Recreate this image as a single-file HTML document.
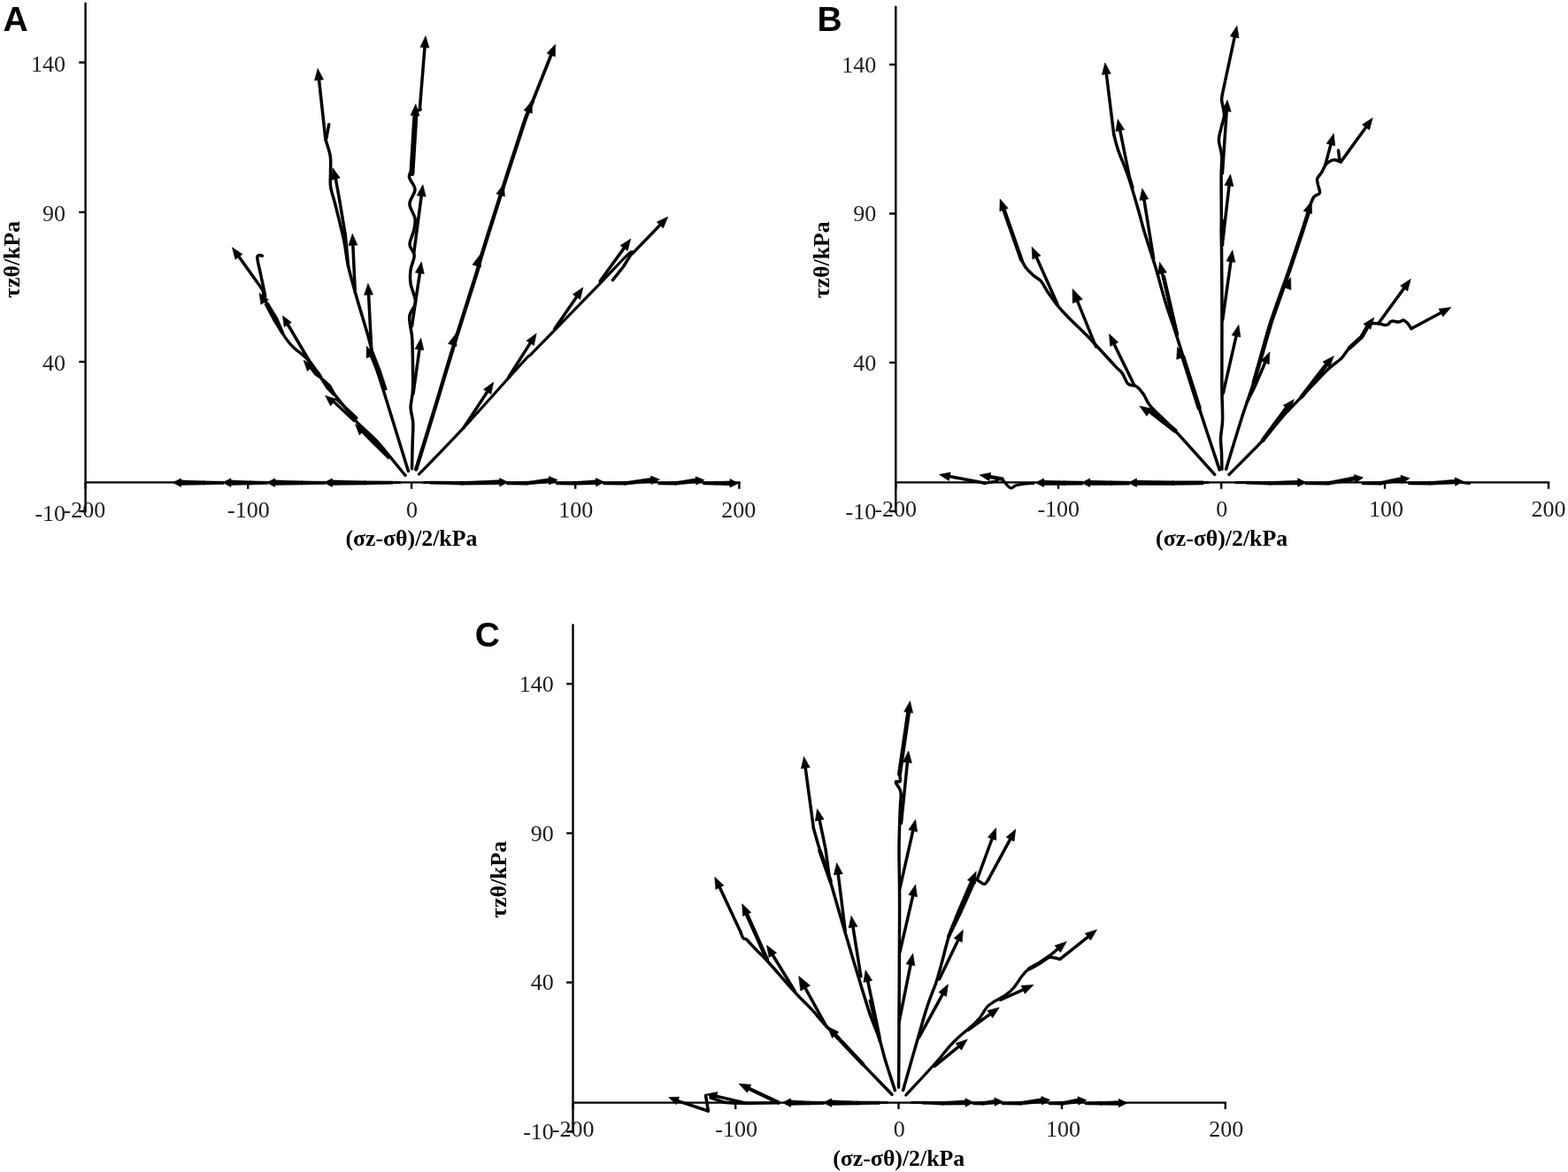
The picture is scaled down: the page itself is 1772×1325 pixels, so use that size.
<!DOCTYPE html>
<html lang="en">
<head>
<meta charset="utf-8">
<title>Stress paths</title>
<style>
html,body{margin:0;padding:0;background:#fff;}
body{width:1772px;height:1325px;overflow:hidden;}
svg{display:block;}
polyline,path{fill:none;stroke:#000;stroke-linejoin:round;stroke-linecap:round;}
.h{fill:#000;stroke:#000;stroke-width:0.6;stroke-linejoin:miter;}
.t{fill:#000;stroke:#000;stroke-width:0.4;stroke-linejoin:round;}
.ax line{stroke:#000;stroke-width:2.4;stroke-linecap:butt;}
text{fill:#000;}
.tk{font-family:"Liberation Serif","Times New Roman",serif;font-size:26px;fill:#1c1c1c;}
.ti{font-family:"Liberation Serif","Times New Roman",serif;font-size:25.8px;font-weight:bold;}
.pl{font-family:"Liberation Sans",Arial,sans-serif;font-size:39px;font-weight:bold;}
</style>
</head>
<body>
<svg width="1772" height="1325" viewBox="0 0 1772 1325">
<rect width="1772" height="1325" fill="#fff"/>
<g class="ax">
<line x1="96.6" y1="2.7" x2="96.6" y2="579.5"/>
<line x1="96.6" y1="545.4" x2="836.6" y2="545.4"/>
<line x1="89.3" y1="70.6" x2="96.6" y2="70.6"/>
<line x1="89.3" y1="239.9" x2="96.6" y2="239.9"/>
<line x1="89.3" y1="409" x2="96.6" y2="409"/>
<line x1="89.3" y1="578" x2="96.6" y2="578"/>
<line x1="96.6" y1="545.4" x2="96.6" y2="552.7"/>
<line x1="280.2" y1="545.4" x2="280.2" y2="552.7"/>
<line x1="465.1" y1="545.4" x2="465.1" y2="552.7"/>
<line x1="650.2" y1="545.4" x2="650.2" y2="552.7"/>
<line x1="835.4" y1="545.4" x2="835.4" y2="552.7"/>
</g>
<text x="74.1" y="80.9" class="tk" text-anchor="end">140</text>
<text x="74.1" y="249.5" class="tk" text-anchor="end">90</text>
<text x="74.1" y="419.1" class="tk" text-anchor="end">40</text>
<text x="74.1" y="588.8" class="tk" text-anchor="end">-10</text>
<text x="95.4" y="584.8" class="tk" text-anchor="middle">-200</text>
<text x="280.9" y="584.8" class="tk" text-anchor="middle">-100</text>
<text x="465.4" y="584.8" class="tk" text-anchor="middle">0</text>
<text x="650.7" y="584.8" class="tk" text-anchor="middle">100</text>
<text x="834.8" y="584.8" class="tk" text-anchor="middle">200</text>
<text x="464.9" y="617.4" class="ti" text-anchor="middle">(σz-σθ)/2/kPa</text>
<text x="22.3" y="293.4" class="ti" text-anchor="middle" transform="rotate(-90 22.3 293.4)">τzθ/kPa</text>
<text x="3.4" y="35.2" class="pl" text-anchor="start">A</text>
<g>
<path d="M465.5,529.9C465.6,524.9 466,508.6 466.2,500C466.4,491.4 467.1,484.9 466.8,478.3C466.5,471.7 464.2,467 464.1,460.6C464.1,454.2 466.1,450.8 466.5,440C466.9,429.2 466.4,405.9 466.2,395.8C466,385.7 466.1,385.8 465.5,379.5C464.9,373.2 462.1,364.1 462.8,357.8C463.5,351.5 469.3,347.6 469.5,341.5C469.7,335.4 465,327.2 464.1,321.1C463.2,315 463.4,310.2 464.1,304.8C464.8,299.4 468.4,293.2 468.2,288.5C468,283.8 463.1,281.2 463,276.5C462.9,271.8 466.7,265.3 467.7,260.4C468.7,255.4 469.8,251.8 469,246.8C468.2,241.8 462.9,235.9 462.9,230.5C462.9,225.1 469.1,219.3 469,214.2C468.9,209.1 463,204.4 462.5,200C462,195.6 465.1,196.3 466,188C466.9,179.7 467.4,160.5 468,150C468.6,139.5 469.5,129.2 469.8,125" stroke-width="3.5"/>
<polyline points="465.4,196 469.3,132" stroke-width="6"/>
<polygon class="h" points="469.8,117.6 474,130.9 464,130.3"/>
<polyline points="474.3,124 480.3,49.7" stroke-width="3.5"/>
<polygon class="h" points="481,40.6 484.9,54 475,53.2"/>
<polyline points="475.2,123.7 471.8,125.1" stroke-width="3.5"/>
<polyline points="467.7,286.2 476.7,217.8" stroke-width="3.5"/>
<polygon class="h" points="477.9,208.8 481.2,222.3 471.2,221"/>
<polyline points="465.5,368.7 469.5,341.5 475,305" stroke-width="3.5"/>
<polygon class="h" points="476.3,296 479.3,309.6 469.4,308.1"/>
<polyline points="467,445 474.5,391.2" stroke-width="3.5"/>
<polygon class="h" points="475.7,382.2 478.9,395.8 469,394.4"/>
<path d="M461.4,532.6C459.2,525.3 452.5,503.7 448,489C443.5,474.3 438.3,457.6 434.2,444.3C430.1,431 426.3,419.8 423.4,409.4C420.5,399 420,394.4 416.6,382.2C413.2,370 406.9,349.7 403,336.1C399.1,322.5 395.9,311.3 393.5,300.7C391.1,290.1 391.2,283.9 388.9,272.6C386.5,261.4 381.9,243.4 379.4,233.2C376.9,223 374.7,217.9 373.7,211.5C372.7,205.1 373.6,200.8 373.5,195C373.4,189.2 374.2,182.9 373.3,176.7C372.4,170.5 368.8,160.9 367.9,157.7" stroke-width="3.5"/>
<polyline points="367.9,157.7 360.1,86.5" stroke-width="3.5"/>
<polygon class="h" points="359.1,77.5 365.5,89.9 355.5,91"/>
<polyline points="368.7,157 371.7,140.7" stroke-width="3.5"/>
<polyline points="393.6,301 390.3,265.8 383.5,225.1 379.5,203 378.3,198.6" stroke-width="3.5"/>
<polygon class="h" points="376,189.8 384.2,201.1 374.5,203.6"/>
<polyline points="401.3,330 398.7,273.4" stroke-width="3.5"/>
<polygon class="h" points="398.3,264.3 403.9,277.1 393.9,277.5"/>
<polyline points="419.8,395.8 416.4,329.5" stroke-width="3.5"/>
<polygon class="h" points="415.9,320.4 421.6,333.1 411.6,333.6"/>
<polygon class="t" points="437.6,440.4 430.6,419 425.4,421 434.4,441.6"/>
<polygon class="t" points="430.6,419 422.3,397.4 416.7,399.6 425.4,421"/>
<polygon class="h" points="414.3,391.3 423.4,401.2 414.1,404.8"/>
<path d="M458,537.4C452.8,531.2 434.9,508.9 427,500C419.1,491.1 414.9,488.3 410.6,484.2C406.4,480.1 406,480.4 401.5,475.1C397,469.8 389.4,459.9 383.4,452.5C377.4,445.1 370.1,437 365.3,430.7C360.5,424.4 357.3,418.4 354.5,414.5C351.7,410.6 350.9,409.5 348.5,407C346.1,404.5 342.6,401.7 340,399.5C337.4,397.3 335.3,396.2 333,394C330.7,391.8 328.2,389.3 326,386.5C323.8,383.7 322.2,381.8 319.5,377C316.8,372.2 313.3,364.2 310,358C306.7,351.8 302,345 299.8,340C297.6,335 297.5,330 297,328" stroke-width="3.4"/>
<polyline points="297,328 267.7,287.1" stroke-width="3.5"/>
<polygon class="h" points="262.4,279.7 274,287.4 265.9,293.2"/>
<path d="M299.8,335C299,331.2 296.5,319.1 295,312C293.5,304.9 291.3,296.5 290.9,292.6C290.4,288.7 291.4,289.3 292.3,288.7C293.2,288.1 295.7,289.1 296.4,289.2" stroke-width="3.5"/>
<polygon class="t" points="321.1,376.2 313.8,359.1 308.2,361.9 317.9,377.8"/>
<polygon class="t" points="313.7,359 303.2,341.8 298.8,344.2 308.3,362"/>
<polygon class="h" points="293,331.3 303.5,339 294.9,344.2"/>
<polyline points="349.5,408 323.6,364" stroke-width="3.5"/>
<polygon class="h" points="319.5,357.1 329.4,364.6 321.2,369.4"/>
<polygon class="t" points="364.3,425.7 359.8,419.2 355.2,423.8 361.7,428.3"/>
<polygon class="t" points="359.9,419.4 353.4,412.9 349.6,416.1 355.1,423.6"/>
<polygon class="h" points="343.1,407.2 354.8,412.9 347.3,419.5"/>
<polygon class="t" points="379.4,445.4 373.7,435 368.3,439 376.6,447.6"/>
<polygon class="t" points="373.5,434.9 365.4,427.4 362.6,429.6 368.5,439.1"/>
<polyline points="400,475.5 376,453" stroke-width="3.2"/>
<polyline points="403,472.5 380,451" stroke-width="3.2"/>
<polygon class="h" points="367.6,447.3 380,451.2 373.5,458.9"/>
<polygon class="t" points="441.3,516.8 427,500.2 423,503.8 438.7,519.2"/>
<polygon class="t" points="426.9,500.1 411.1,483.5 406.9,487.5 423.1,503.9"/>
<polygon class="h" points="401.5,479.6 413.4,484.9 406.1,491.8"/>
<path d="M470.2,530.6C473.9,518.5 485.5,481.3 492.6,457.9C499.7,434.5 505.4,414.6 513,390C520.6,365.4 533.2,326.6 538.3,310C543.4,293.4 540.1,302.2 543.7,290.3C547.3,278.4 555.7,252.3 560,238.7C564.3,225.1 564.9,223.2 569.5,208.8C574.1,194.4 583.7,165 587.9,152.2C592.1,139.4 592.4,138 594.7,131.9C597,125.8 600.4,118.3 601.5,115.6" stroke-width="4.4"/>
<polyline points="601.5,115.6 624.2,58.6" stroke-width="3.8"/>
<polygon class="h" points="627.6,50.1 627.4,64 618.1,60.3"/>
<polygon class="h" points="515,377.5 516.1,391.4 506.5,388.5"/>
<polygon class="h" points="542.4,288.2 543.5,302.1 533.9,299.2"/>
<polygon class="h" points="569.5,208.1 570.4,222 560.9,219"/>
<polygon class="h" points="601.2,114.2 601.4,128.1 592,124.7"/>
<path d="M473.6,536C482,527.3 504.5,504.6 523.9,483.7C543.3,462.8 577.2,424.3 590,410.4C602.8,396.4 594.8,405.9 600.7,400C606.6,394.1 612.5,387.8 625.2,374.8C637.9,361.8 662.8,336.4 676.8,321.9C690.8,307.4 703.1,293.8 709.4,287.9C715.7,282 713.9,286.8 714.8,286.6" stroke-width="3.2"/>
<polyline points="714.8,286.6 748.6,251.6" stroke-width="3.5"/>
<polygon class="h" points="754.9,245.1 749.5,257.9 742.3,251"/>
<polyline points="714.6,285.2 704.5,301.5 692.4,316.6" stroke-width="3.5"/>
<polyline points="523.9,483.7 552.8,439.7" stroke-width="3.5"/>
<polygon class="h" points="557.8,432.1 554.8,445.7 546.5,440.2"/>
<polyline points="575,426 601.3,384.6" stroke-width="3.5"/>
<polygon class="h" points="606.2,376.9 603.4,390.6 595,385.2"/>
<polyline points="626.6,372.1 653.8,332.4" stroke-width="3.5"/>
<polygon class="h" points="658.9,324.9 655.7,338.5 647.4,332.8"/>
<polyline points="678.2,317.8 707.5,277.4" stroke-width="3.5"/>
<polygon class="h" points="712.8,270 709.2,283.5 701.1,277.6"/>
<polyline points="440,545.5 452,545.4" stroke-width="3"/>
<polygon class="t" points="444,543.9 412.3,543.8 412.3,548 444,547.3"/>
<polygon class="t" points="412.3,543.8 373.6,542.8 373.6,548.4 412.3,548"/>
<circle class="t" cx="412.3" cy="545.9" r="2.1"/>
<polygon class="h" points="366,545.6 375.5,540.9 375.5,550.4"/>
<polygon class="t" points="367.5,544.2 341.1,543.8 341.1,548 367.5,547.6"/>
<polygon class="t" points="341.1,543.8 308.9,542.8 308.9,548.4 341.1,548"/>
<circle class="t" cx="341.1" cy="545.9" r="2.1"/>
<polygon class="h" points="301.3,545.6 310.8,540.9 310.8,550.4"/>
<polygon class="t" points="302.8,544.2 283.1,543.8 283.1,548 302.8,547.6"/>
<polygon class="t" points="283.2,543.8 259.1,542.8 259.1,548.4 283.1,548"/>
<circle class="t" cx="283.1" cy="545.9" r="2.1"/>
<polygon class="h" points="251.5,545.6 261,540.9 261,550.4"/>
<polygon class="t" points="253,544.2 230.4,543.8 230.4,548 253,547.6"/>
<polygon class="t" points="230.4,543.8 202.8,542.8 202.8,548.4 230.4,548"/>
<circle class="t" cx="230.4" cy="545.9" r="2.1"/>
<polygon class="h" points="195.2,545.6 204.7,540.9 204.7,550.4"/>
<polyline points="478,545.4 490,545.4" stroke-width="3"/>
<polygon class="t" points="486,547.2 522.2,548.2 522.3,544.4 486,544"/>
<polygon class="t" points="522.3,548.2 566.6,547.8 566.4,542.6 522.2,544.4"/>
<circle class="t" cx="522.2" cy="546.3" r="2"/>
<polygon class="h" points="574.1,545.1 564.7,550 564.5,540.5"/>
<polygon class="t" points="572.6,547.9 595,548.3 595,544.4 572.6,544.7"/>
<polygon class="t" points="595.2,548.2 622.7,545.5 622.1,540.4 594.8,544.4"/>
<circle class="t" cx="595" cy="546.3" r="2"/>
<polygon class="h" points="630,542.6 620.9,548 620.2,538.6"/>
<polygon class="t" points="628.5,547.9 649.6,548.3 649.6,544.4 628.5,544.7"/>
<polygon class="t" points="649.7,548.2 675.5,547.7 675.3,542.5 649.5,544.4"/>
<circle class="t" cx="649.6" cy="546.3" r="2"/>
<polygon class="h" points="683,545 673.6,549.9 673.4,540.4"/>
<polygon class="t" points="681.5,547.9 706.8,548.3 706.8,544.4 681.5,544.7"/>
<polygon class="t" points="707.1,548.2 738.1,545 737.5,539.9 706.6,544.4"/>
<circle class="t" cx="706.8" cy="546.3" r="2"/>
<polygon class="h" points="745.4,542 736.4,547.6 735.5,538.1"/>
<polygon class="t" points="743.9,547.9 763.9,548.3 763.9,544.4 743.9,544.7"/>
<polygon class="t" points="764.1,548.2 788.6,545.7 788,540.6 763.6,544.4"/>
<circle class="t" cx="763.9" cy="546.3" r="2"/>
<polygon class="h" points="795.9,542.8 786.8,548.2 786.1,538.7"/>
<polygon class="t" points="794.4,547.9 809,548.3 809,544.4 794.4,544.7"/>
<polygon class="t" points="809,548.2 826.9,548.9 826.9,543.7 809,544.4"/>
<circle class="t" cx="809" cy="546.3" r="2"/>
<polygon class="h" points="834.5,546.4 824.9,551 825.1,541.5"/>
</g>
<g class="ax">
<line x1="1012.3" y1="6.8" x2="1012.3" y2="579.5"/>
<line x1="1012.3" y1="545.4" x2="1751.2" y2="545.4"/>
<line x1="1005" y1="73" x2="1012.3" y2="73"/>
<line x1="1005" y1="241.5" x2="1012.3" y2="241.5"/>
<line x1="1005" y1="409.9" x2="1012.3" y2="409.9"/>
<line x1="1005" y1="578" x2="1012.3" y2="578"/>
<line x1="1012.3" y1="545.4" x2="1012.3" y2="552.7"/>
<line x1="1196" y1="545.4" x2="1196" y2="552.7"/>
<line x1="1380.2" y1="545.4" x2="1380.2" y2="552.7"/>
<line x1="1565" y1="545.4" x2="1565" y2="552.7"/>
<line x1="1750" y1="545.4" x2="1750" y2="552.7"/>
</g>
<text x="990.2" y="81.5" class="tk" text-anchor="end">140</text>
<text x="990.2" y="250.2" class="tk" text-anchor="end">90</text>
<text x="990.2" y="418.7" class="tk" text-anchor="end">40</text>
<text x="990.2" y="587" class="tk" text-anchor="end">-10</text>
<text x="1012.3" y="584" class="tk" text-anchor="middle">-200</text>
<text x="1196.3" y="584" class="tk" text-anchor="middle">-100</text>
<text x="1380.8" y="584" class="tk" text-anchor="middle">0</text>
<text x="1566.5" y="584" class="tk" text-anchor="middle">100</text>
<text x="1750" y="584" class="tk" text-anchor="middle">200</text>
<text x="1380.6" y="616.7" class="ti" text-anchor="middle">(σz-σθ)/2/kPa</text>
<text x="936.9" y="293.8" class="ti" text-anchor="middle" transform="rotate(-90 936.9 293.8)">τzθ/kPa</text>
<text x="923.6" y="35.3" class="pl" text-anchor="start">B</text>
<g>
<path d="M1380.9,530.4C1380.8,527.3 1380.7,517.9 1380.5,512C1380.3,506.1 1379.3,501.3 1379.5,495.1C1379.7,488.9 1381.4,483.8 1381.6,474.7C1381.8,465.6 1381,453.1 1380.9,440.7C1380.8,428.2 1380.9,418.4 1380.9,400C1380.9,381.6 1381,350 1380.9,330C1380.8,310 1380.6,301.4 1380.5,280C1380.4,258.6 1380.1,219.2 1380.1,201.9C1380.1,184.6 1381.2,183.3 1380.7,176.1C1380.2,168.8 1377.4,163.9 1377.4,158.4C1377.4,152.9 1379.5,147.8 1380.5,143C1381.5,138.2 1383.5,134.8 1383.5,129.9C1383.5,125 1381,117.6 1380.7,113.6C1380.4,109.6 1381.4,107.3 1381.5,106" stroke-width="3.5"/>
<polyline points="1381.5,106 1396,38.1" stroke-width="3.5"/>
<polygon class="h" points="1397.9,29.2 1400.1,43 1390.3,40.9"/>
<polyline points="1381.4,196 1386.5,122" stroke-width="3.5"/>
<polygon class="h" points="1387.1,112.9 1391.2,126.2 1381.2,125.5"/>
<polyline points="1382.1,269.8 1389.5,206.1" stroke-width="3.5"/>
<polygon class="h" points="1390.5,197.1 1394,210.6 1384,209.4"/>
<polygon class="t" points="1379.6,248 1378.8,262 1383.8,262 1383.2,248"/>
<polygon class="t" points="1378.8,262 1379.4,278 1383,278 1383.8,262"/>
<polyline points="1381.6,361.9 1391.5,291.8" stroke-width="3.5"/>
<polygon class="h" points="1392.8,282.8 1395.9,296.4 1386,295"/>
<polyline points="1382.2,444.8 1397.9,376.2" stroke-width="3.5"/>
<polygon class="h" points="1399.9,367.3 1401.9,381.1 1392.1,378.9"/>
<path d="M1378.2,531.1C1374.3,519.4 1362.1,483 1355.1,461.1C1348.1,439.2 1340.6,414.5 1336.1,400C1331.6,385.5 1331.1,383.9 1327.9,374.1C1324.7,364.4 1320.4,352.6 1317,341.5C1313.6,330.4 1309.7,315.2 1307.5,307.5C1305.3,299.8 1306.2,303 1303.7,295.1C1301.2,287.2 1295.3,269.1 1292.6,260C1289.9,250.9 1290.3,250.7 1287.4,240.7C1284.5,230.7 1279.2,211.9 1275.2,200C1271.2,188.1 1266.2,177.5 1263.5,169.4C1260.8,161.3 1259.5,154.6 1258.7,151.7" stroke-width="3.5"/>
<polyline points="1258.7,151.7 1249.9,79.9" stroke-width="3.5"/>
<polygon class="h" points="1248.8,70.9 1255.3,83.2 1245.4,84.4"/>
<polyline points="1280,212 1276.4,200 1265,143.7" stroke-width="3.5"/>
<polygon class="h" points="1263.2,134.8 1270.7,146.5 1260.9,148.5"/>
<polyline points="1303.7,292.4 1292.3,221.9" stroke-width="3.5"/>
<polygon class="h" points="1290.8,212.9 1297.8,224.9 1287.9,226.5"/>
<polyline points="1330,378 1315,313" stroke-width="4.4"/>
<polyline points="1329,374 1312.6,305.3" stroke-width="3.5"/>
<polygon class="h" points="1310.5,296.4 1318.4,307.9 1308.7,310.2"/>
<polyline points="1355.1,461.1 1337,404" stroke-width="5.2"/>
<polygon class="h" points="1330.6,392.4 1339.2,403.3 1329.7,406.3"/>
<path d="M1372.7,536.5C1365.2,528.2 1339.9,499.7 1327.9,486.9C1315.9,474.1 1306.6,466.6 1300.7,459.8C1294.8,453 1295.3,450 1292.6,446.2C1289.9,442.4 1287.5,439 1284.5,437C1281.5,435 1277.6,436.6 1274.9,434C1272.2,431.4 1270.6,425.1 1268.1,421.7C1265.6,418.3 1266.5,420.6 1260,413.6C1253.5,406.7 1237.5,388.9 1229,380C1220.5,371.1 1214.4,366.1 1208.7,360.3C1203,354.5 1199.2,350.3 1195.1,345.3C1191,340.3 1187.3,334.9 1184.2,330.4C1181.1,325.9 1179.4,321.4 1176.7,318.2C1174,315 1170.7,313.9 1167.9,311.4C1165.1,308.9 1162.1,306.1 1159.8,303.2C1157.5,300.2 1155.2,295.3 1154.3,293.7" stroke-width="3.5"/>
<polyline points="1154.3,293.7 1133.2,233.5" stroke-width="4.6"/>
<polygon class="h" points="1130.2,224.9 1139.2,235.5 1129.8,238.8"/>
<polyline points="1195.1,344 1169.8,287.5" stroke-width="3.5"/>
<polygon class="h" points="1166.1,279.2 1176,289 1166.8,293.1"/>
<polyline points="1238.5,392 1216,336.3" stroke-width="3.4"/>
<polygon class="h" points="1212.1,326.6 1223.3,338.3 1212.2,342.8"/>
<polyline points="1281.7,435.3 1257.5,385.7" stroke-width="3.5"/>
<polygon class="h" points="1253.5,377.5 1263.7,387 1254.7,391.4"/>
<polyline points="1327.9,486.9 1301,466" stroke-width="5.2"/>
<polygon class="h" points="1287.8,459.1 1301.4,462 1296,470.4"/>
<path d="M1385.6,530.4C1388.4,521.1 1397.5,490.8 1402.6,474.7C1407.7,458.6 1412.8,444.9 1416.2,434C1419.6,423.1 1419.6,421.4 1423,409.4C1426.4,397.4 1430.9,379.3 1436.6,361.9C1442.2,344.5 1451,321.8 1456.9,304.8C1462.8,287.8 1467.8,272.4 1471.9,260C1476,247.6 1479.1,236.7 1481.3,230.4C1483.5,224.1 1483.6,224.2 1485.3,222.2C1487,220.2 1490.7,220.4 1491.4,218.2C1492.1,215.9 1489.9,211.4 1489.4,208.7C1489,206 1488,204.2 1488.7,201.9C1489.4,199.6 1492,197.6 1493.5,195.1C1495,192.6 1496.9,188.3 1497.6,186.9" stroke-width="3.5"/>
<polyline points="1417,432 1436.6,364 1456.9,306.5 1471.9,261.5 1480,236" stroke-width="4.6"/>
<polygon class="h" points="1482,227.7 1482.6,241.6 1473.1,238.4"/>
<polyline points="1497.6,186.9 1504.9,159.7" stroke-width="3.5"/>
<polygon class="h" points="1507.3,150.9 1508.7,164.8 1499.1,162.2"/>
<path d="M1497.6,186.5C1498.5,185.8 1501.2,183.1 1503,182.2C1504.8,181.2 1506.4,180.7 1508.4,180.8C1510.4,181 1514.1,182.7 1515.2,183.1" stroke-width="3.5"/>
<polyline points="1512.5,170 1513.9,181.5" stroke-width="3.5"/>
<polyline points="1515.2,183.1 1545.9,140.7" stroke-width="3.5"/>
<polygon class="h" points="1551.2,133.3 1547.6,146.8 1539.5,140.9"/>
<polygon class="h" points="1458.6,313.7 1458.9,327.6 1449.5,324.3"/>
<polyline points="1409.4,454.3 1417.6,438 1431.3,406.3" stroke-width="3.5"/>
<polygon class="h" points="1434.9,397.9 1434.3,411.8 1425.2,407.9"/>
<path d="M1389,536.5C1395.3,530 1416.9,508.9 1427.1,497.8C1437.3,486.7 1443.1,478.1 1450.4,470C1457.7,461.9 1462.3,457.6 1470.7,448.9C1479.1,440.2 1493.1,424.9 1500.6,417.7C1508.1,410.4 1511.5,409.5 1515.6,405.4C1519.7,401.3 1521.2,397.3 1525.1,393.2C1528.9,389.1 1535.5,384.6 1538.7,381C1541.9,377.4 1542.5,374 1544.1,371.5C1545.6,369 1547.3,366.9 1548,366" stroke-width="3.4"/>
<polyline points="1427.1,497.8 1455,460" stroke-width="4.8"/>
<polygon class="h" points="1462.4,451.6 1457.8,464.7 1450.2,458.3"/>
<polyline points="1470.7,448.9 1500,411" stroke-width="4.8"/>
<polygon class="h" points="1507.4,402.5 1502.5,415.6 1495,408.9"/>
<polyline points="1525.1,393.2 1538.7,381 1545,370" stroke-width="4.8"/>
<polygon class="h" points="1552.9,359 1548.9,372.3 1541,366.2"/>
<path d="M1548.2,365.4C1550.7,365.5 1552.6,365.3 1557.7,365.8C1562.8,366.3 1563.2,368.1 1567.2,367.4C1571.2,366.7 1569,364.2 1572.6,363.3C1576.2,362.4 1576.8,364.2 1580.8,364C1584.8,363.8 1583.8,360.7 1587.6,362.7C1591.4,364.7 1593,369.2 1595,371.5" stroke-width="3.5"/>
<polyline points="1595,371.5 1631.8,351.8" stroke-width="3.5"/>
<polygon class="h" points="1639.8,347.5 1630.7,358 1626,349.2"/>
<polyline points="1557.7,365.8 1588.9,322.9" stroke-width="3.5"/>
<polygon class="h" points="1594.3,315.5 1590.7,329 1582.6,323.1"/>
<polyline points="1356,545.7 1366,545.6" stroke-width="3"/>
<polygon class="t" points="1360,543.7 1325.1,543.8 1325.2,548.4 1360,547.9"/>
<polygon class="t" points="1325.2,543.8 1282.6,543 1282.6,548.6 1325.2,548.4"/>
<circle class="t" cx="1325.2" cy="546.1" r="2.3"/>
<polygon class="h" points="1275,545.8 1284.5,541 1284.5,550.5"/>
<polygon class="t" points="1276.5,544 1255.5,543.8 1255.5,548.4 1276.5,548.2"/>
<polygon class="t" points="1255.5,543.8 1229.8,543 1229.8,548.6 1255.5,548.4"/>
<circle class="t" cx="1255.5" cy="546.1" r="2.3"/>
<polygon class="h" points="1222.2,545.8 1231.7,541 1231.7,550.5"/>
<polygon class="t" points="1223.7,544 1203,543.8 1203,548.4 1223.7,548.2"/>
<polygon class="t" points="1203,543.8 1177.7,543 1177.7,548.6 1203,548.4"/>
<circle class="t" cx="1203" cy="546.1" r="2.3"/>
<polygon class="h" points="1170.1,545.8 1179.6,541 1179.6,550.5"/>
<polyline points="1112.2,546 1069.8,538" stroke-width="3.5"/>
<polygon class="h" points="1061.5,536.5 1074.2,534 1072.4,543.4"/>
<polyline points="1132.7,541.6 1115.3,538.4" stroke-width="4.2"/>
<polygon class="h" points="1107,536.9 1119.7,534.4 1117.9,543.7"/>
<path d="M1112,546.5C1114.2,546.1 1121.8,544.9 1125,544C1128.2,543.1 1128.9,540.1 1131.2,540.9C1133.5,541.7 1136.6,547.2 1138.6,549C1140.6,550.8 1141.5,551.9 1143,551.9C1144.5,551.9 1145.5,549.7 1147.4,549C1149.4,548.3 1151.3,548 1154.7,547.5C1158.1,547 1165.8,546.5 1168,546.3" stroke-width="3.2"/>
<polyline points="1396,545.6 1412,545.6" stroke-width="3"/>
<polygon class="t" points="1408,547.3 1435.2,548.2 1435.3,544.4 1408,544.1"/>
<polygon class="t" points="1435.3,548.2 1468.7,548 1468.5,543 1435.2,544.4"/>
<circle class="t" cx="1435.3" cy="546.3" r="1.9"/>
<polygon class="h" points="1476.2,545.5 1466.7,550.3 1466.7,540.8"/>
<polygon class="t" points="1474.7,547.9 1500.9,548.2 1500.9,544.4 1474.7,544.7"/>
<polygon class="t" points="1501.2,548.2 1533.3,543.1 1532.5,538.1 1500.6,544.4"/>
<circle class="t" cx="1500.9" cy="546.3" r="1.9"/>
<polygon class="h" points="1540.5,539.9 1531.8,546 1530.4,536.6"/>
<polygon class="t" points="1539,547.9 1559.9,548.2 1559.9,544.4 1539,544.7"/>
<polygon class="t" points="1560.2,548.2 1585.9,543.8 1584.9,538.9 1559.5,544.4"/>
<circle class="t" cx="1559.9" cy="546.3" r="1.9"/>
<polygon class="h" points="1593,540.8 1584.1,546.7 1583,537.2"/>
<polygon class="t" points="1591.5,547.9 1616.2,548.2 1616.2,544.4 1591.5,544.7"/>
<polygon class="t" points="1616.3,548.2 1646.5,546.9 1646.1,541.9 1616,544.4"/>
<circle class="t" cx="1616.2" cy="546.3" r="1.9"/>
<polygon class="h" points="1653.9,544.2 1644.6,549.3 1644.2,539.8"/>
<polyline points="1652,545.6 1660.5,546.6" stroke-width="3"/>
</g>
<g class="ax">
<line x1="647.5" y1="705.5" x2="647.5" y2="1280.8"/>
<line x1="647.5" y1="1246.6" x2="1386" y2="1246.6"/>
<line x1="640.2" y1="773.1" x2="647.5" y2="773.1"/>
<line x1="640.2" y1="942" x2="647.5" y2="942"/>
<line x1="640.2" y1="1110.7" x2="647.5" y2="1110.7"/>
<line x1="640.2" y1="1279.4" x2="647.5" y2="1279.4"/>
<line x1="647.5" y1="1246.6" x2="647.5" y2="1253.9"/>
<line x1="831.2" y1="1246.6" x2="831.2" y2="1253.9"/>
<line x1="1015.5" y1="1246.6" x2="1015.5" y2="1253.9"/>
<line x1="1200" y1="1246.6" x2="1200" y2="1253.9"/>
<line x1="1384.8" y1="1246.6" x2="1384.8" y2="1253.9"/>
</g>
<text x="625.8" y="781.8" class="tk" text-anchor="end">140</text>
<text x="625.8" y="950.7" class="tk" text-anchor="end">90</text>
<text x="625.8" y="1119.4" class="tk" text-anchor="end">40</text>
<text x="625.8" y="1288.3" class="tk" text-anchor="end">-10</text>
<text x="647.8" y="1284.7" class="tk" text-anchor="middle">-200</text>
<text x="832.2" y="1284.7" class="tk" text-anchor="middle">-100</text>
<text x="1016.2" y="1284.7" class="tk" text-anchor="middle">0</text>
<text x="1201.5" y="1284.7" class="tk" text-anchor="middle">100</text>
<text x="1385.8" y="1284.7" class="tk" text-anchor="middle">200</text>
<text x="1015.7" y="1317.9" class="ti" text-anchor="middle">(σz-σθ)/2/kPa</text>
<text x="572.5" y="994.4" class="ti" text-anchor="middle" transform="rotate(-90 572.5 994.4)">τzθ/kPa</text>
<text x="536.7" y="730.9" class="pl" text-anchor="start">C</text>
<g>
<path d="M1015.5,1229.2C1015.6,1223.4 1015.7,1214.8 1015.8,1200C1015.9,1185.2 1015.9,1175 1016,1155C1016.1,1135 1016.2,1125 1016.3,1100C1016.4,1075 1016.6,1050 1016.6,1030C1016.6,1010 1016.6,1014 1016.5,1000C1016.4,986 1015.9,976.8 1016,960C1016.1,943.2 1016.8,928.7 1017.2,915.8C1017.6,902.9 1018.9,901.7 1017.9,895.5C1016.9,889.3 1012.5,887.1 1012.4,884.6C1012.3,882.1 1016.4,885.1 1017.2,883.2C1018,881.3 1016.6,876.7 1016.5,875.1" stroke-width="3.5"/>
<polyline points="1016.5,875.1 1027.2,801.5" stroke-width="5"/>
<polygon class="h" points="1028.5,792.5 1031.6,806.1 1021.7,804.6"/>
<polyline points="1018.5,930.8 1025.8,858.1" stroke-width="3.5"/>
<polygon class="h" points="1026.7,849 1030.4,862.4 1020.4,861.4"/>
<polyline points="1017,1004.2 1032.6,935.4" stroke-width="3.5"/>
<polygon class="h" points="1034.6,926.5 1036.6,940.3 1026.9,938.1"/>
<polyline points="1017,1076.2 1032.5,1009" stroke-width="3.5"/>
<polygon class="h" points="1034.6,1000.1 1036.5,1013.9 1026.8,1011.6"/>
<polyline points="1016.1,1155.2 1029.8,1086.9" stroke-width="3.5"/>
<polygon class="h" points="1031.6,1078 1033.9,1091.7 1024.1,1089.8"/>
<path d="M1011.4,1232.6C1009.6,1226.9 1003.5,1208.4 1000.5,1198.7C997.5,1189 996.9,1183.7 993.7,1174.2C990.5,1164.7 986.5,1156.9 981.5,1141.6C976.5,1126.3 968.7,1099.8 963.4,1082.2C958.1,1064.6 954.1,1050.8 949.8,1036.1C945.5,1021.4 941.5,1006.7 937.6,994C933.7,981.3 929.2,969.6 926.2,960C923.2,950.4 920.5,940.2 919.4,936.2" stroke-width="3.5"/>
<polyline points="919.4,936.2 909.7,864.4" stroke-width="3.5"/>
<polygon class="h" points="908.5,855.4 915.2,867.6 905.3,869"/>
<polyline points="937.6,994 933,960 925.4,923.4" stroke-width="3.5"/>
<polygon class="h" points="923.5,914.5 931.1,926.2 921.3,928.2"/>
<polyline points="926.5,962 938.5,996" stroke-width="4.6"/>
<polyline points="955.2,1052.4 946.8,984.6" stroke-width="3.5"/>
<polygon class="h" points="945.7,975.6 952.3,987.9 942.3,989.1"/>
<polyline points="972.9,1104 963.4,1044.4" stroke-width="3.5"/>
<polygon class="h" points="962,1035.4 969,1047.5 959.1,1049"/>
<polyline points="993.7,1171.5 980,1105.7" stroke-width="3.5"/>
<polygon class="h" points="978.1,1096.8 985.7,1108.5 975.9,1110.5"/>
<polygon class="t" points="996.2,1176.6 986.4,1129.5 981.6,1130.5 992.8,1177.4"/>
<path d="M1008,1237.4C992.3,1221.1 961.8,1189.8 940.7,1167.4C919.6,1145 927.6,1152.3 917.7,1141.6C907.8,1130.9 909.7,1134.2 898.2,1121.6C886.7,1109 878.1,1098.5 868.3,1087.7C858.5,1076.9 861.3,1080.8 856.1,1075.4C850.9,1070 849,1067.7 846,1064.5C843,1061.3 844.6,1062.8 843.2,1061.9C841.8,1061 841.2,1062.4 839.8,1060.5C838.4,1058.6 837.7,1055.3 837,1053.7" stroke-width="3.5"/>
<polyline points="837,1053.7 811.7,999.7" stroke-width="3.5"/>
<polygon class="h" points="807.8,991.5 817.9,1001.1 808.8,1005.4"/>
<polyline points="866.9,1085 842.4,1030.1" stroke-width="4.6"/>
<polygon class="h" points="838.7,1021.8 848.6,1031.6 839.4,1035.7"/>
<polyline points="898.2,1120.3 871.3,1076.5" stroke-width="3.5"/>
<polygon class="h" points="866.5,1068.7 877.6,1077.2 869,1082.4"/>
<polyline points="934,1160.6 907.9,1113.1" stroke-width="3.5"/>
<polygon class="h" points="902.7,1103.6 915.6,1114.2 904.7,1120.2"/>
<polyline points="975,1203 943,1169" stroke-width="4.6"/>
<polygon class="h" points="935.3,1160.6 947.8,1166.8 940.4,1173.6"/>
<path d="M1020.6,1232.6C1023.9,1220.9 1031.7,1193.2 1037.2,1174.2C1042.7,1155.2 1043.9,1150 1048,1137.5C1052.1,1125 1055,1119.2 1057.6,1111.7C1060.2,1104.2 1059.5,1105.5 1061.1,1100C1062.7,1094.5 1063,1093.1 1065.4,1084.3C1067.8,1075.5 1069.5,1066.4 1073.3,1055.8C1077.1,1045.2 1079.8,1041.2 1084.2,1031.4C1088.6,1021.6 1091.8,1014 1095.1,1006.9C1098.4,999.8 1099.4,998.3 1100.5,996.1" stroke-width="3.5"/>
<polygon class="t" points="1073.1,1060.7 1086.9,1032.6 1081.5,1030.2 1069.9,1059.3"/>
<polygon class="t" points="1086.9,1032.6 1102.4,997.8 1096.6,995.2 1081.5,1030.2"/>
<polygon class="h" points="1103.2,985.2 1102.5,999.1 1093.4,995.1"/>
<polyline points="1104.6,993.3 1122.5,944.5" stroke-width="3.5"/>
<polygon class="h" points="1125.6,936 1125.8,949.9 1116.4,946.5"/>
<path d="M1103,994C1103.8,994.5 1105.9,996.1 1107.5,997C1109.1,997.9 1111.2,999.9 1112.7,999.5C1114.2,999.1 1116.1,995.5 1116.8,994.7" stroke-width="3.5"/>
<polyline points="1116.8,994.7 1143.5,945.4" stroke-width="3.5"/>
<polygon class="h" points="1147.8,937.4 1146,951.2 1137.2,946.5"/>
<polyline points="1061.5,1107 1084.4,1059.5" stroke-width="3.5"/>
<polygon class="h" points="1088.4,1051.3 1087.2,1065.2 1078.2,1060.8"/>
<polyline points="1038.5,1172.9 1067,1120.8" stroke-width="3.5"/>
<polygon class="h" points="1071.4,1112.8 1069.5,1126.6 1060.8,1121.8"/>
<path d="M1023.9,1238C1031.4,1229.8 1043.6,1217 1056.2,1203C1068.8,1189 1066.7,1189.2 1077.7,1178C1088.7,1166.8 1095,1163.9 1103.5,1155C1112,1146.1 1110.2,1144.9 1114.3,1140C1118.4,1135.1 1114.7,1138.4 1121,1134C1127.3,1129.6 1133.5,1128.2 1141.5,1121C1149.5,1113.8 1150,1109.3 1155.1,1103.3C1160.2,1097.3 1158.5,1098.7 1163.2,1095.2C1167.9,1091.7 1170,1091.6 1175.4,1088.4C1180.8,1085.2 1183.8,1083.1 1186.3,1081.5" stroke-width="3.3"/>
<path d="M1186.3,1082.3C1187.2,1082.4 1190.1,1082.7 1192,1083C1193.9,1083.3 1196.9,1084.1 1197.9,1084.3" stroke-width="3.5"/>
<polyline points="1197.9,1084.3 1232.5,1056.8" stroke-width="3.5"/>
<polygon class="h" points="1239.6,1051.1 1232.5,1063.1 1226.3,1055.3"/>
<polyline points="1163.2,1095.2 1175.4,1088.4 1186.3,1080.9" stroke-width="4.6"/>
<polyline points="1186.3,1080.5 1198.3,1070.4" stroke-width="3.5"/>
<polygon class="h" points="1205.3,1064.6 1198.5,1076.8 1192.1,1069.1"/>
<polyline points="1130.6,1130.5 1159.7,1117.3" stroke-width="3.5"/>
<polygon class="h" points="1168,1113.5 1158.2,1123.4 1154.1,1114.3"/>
<polyline points="1094,1164.5 1121.9,1144.4" stroke-width="3.5"/>
<polygon class="h" points="1129.3,1139.1 1121.7,1150.8 1115.8,1142.6"/>
<polyline points="1056.2,1205.4 1086.3,1180.9" stroke-width="3.5"/>
<polygon class="h" points="1093.3,1175.1 1086.4,1187.2 1080.1,1179.5"/>
<polyline points="990,1246.7 1002,1246.6" stroke-width="3"/>
<polygon class="t" points="994,1245 968.7,1244.9 968.8,1249.1 994,1248.4"/>
<polygon class="t" points="968.8,1244.9 937.9,1243.7 937.9,1249.5 968.7,1249.1"/>
<circle class="t" cx="968.8" cy="1247" r="2.1"/>
<polygon class="h" points="930.3,1246.6 939.8,1241.9 939.8,1251.4"/>
<polygon class="t" points="931.8,1245.3 913.8,1244.9 913.8,1249.1 931.8,1248.7"/>
<polygon class="t" points="913.8,1244.9 891.8,1243.7 891.6,1249.5 913.7,1249.1"/>
<circle class="t" cx="913.8" cy="1247" r="2.1"/>
<polygon class="h" points="884.1,1246.6 893.6,1241.9 893.6,1251.4"/>
<polyline points="846,1247.3 880,1246.8" stroke-width="3.6"/>
<polyline points="800.4,1256 769.6,1245.8 762.9,1243.3" stroke-width="3.5"/>
<polygon class="h" points="755.7,1240.6 767.6,1240.2 764.4,1248.7"/>
<polyline points="800.4,1256 797.5,1238.4" stroke-width="3.5"/>
<polyline points="843,1247.2 812.2,1239.9 806.4,1238.7" stroke-width="3.5"/>
<polygon class="h" points="798.2,1237 811,1234.5 808.9,1244.3"/>
<path d="M803,1241C804.5,1241.5 809,1243.1 812,1244C815,1244.9 815.3,1246 821,1246.5C826.7,1247 841.8,1247.2 846,1247.3" stroke-width="3.5"/>
<polyline points="879.7,1246.5 843.1,1229.1" stroke-width="4.2"/>
<polygon class="h" points="834.9,1225.2 848.8,1226.3 844.5,1235.3"/>
<polyline points="1030,1246.6 1046,1246.6" stroke-width="3"/>
<polygon class="t" points="1042,1248.3 1064.9,1249.2 1065,1245.4 1042,1245.1"/>
<polygon class="t" points="1065,1249.2 1093,1249 1092.8,1243.8 1064.8,1245.4"/>
<circle class="t" cx="1064.9" cy="1247.3" r="2"/>
<polygon class="h" points="1100.5,1246.4 1091,1251.2 1091,1241.7"/>
<polygon class="t" points="1099,1248.9 1111.1,1249.2 1111.1,1245.3 1099,1245.7"/>
<polygon class="t" points="1111.3,1249.2 1126.2,1248 1125.6,1242.9 1110.9,1245.4"/>
<circle class="t" cx="1111.1" cy="1247.3" r="2"/>
<polygon class="h" points="1133.5,1245.3 1124.2,1250.4 1123.8,1240.9"/>
<polygon class="t" points="1132,1248.9 1153.2,1249.2 1153.2,1245.3 1132,1245.7"/>
<polygon class="t" points="1153.4,1249.2 1179.3,1246.5 1178.7,1241.3 1152.9,1245.4"/>
<circle class="t" cx="1153.2" cy="1247.3" r="2"/>
<polygon class="h" points="1186.6,1243.5 1177.5,1249 1176.8,1239.5"/>
<polygon class="t" points="1185.1,1248.9 1200.9,1249.2 1200.9,1245.3 1185.1,1245.7"/>
<polygon class="t" points="1201.2,1249.2 1220.6,1246.7 1219.8,1241.6 1200.6,1245.4"/>
<circle class="t" cx="1200.9" cy="1247.3" r="2"/>
<polygon class="h" points="1227.8,1243.8 1218.7,1249.2 1218,1239.7"/>
<polygon class="t" points="1226.3,1248.9 1244.3,1249.2 1244.3,1245.3 1226.3,1245.7"/>
<polygon class="t" points="1244.3,1249.2 1266.2,1249.6 1266.2,1244.4 1244.2,1245.4"/>
<circle class="t" cx="1244.3" cy="1247.3" r="2"/>
<polygon class="h" points="1273.8,1247 1264.3,1251.7 1264.3,1242.2"/>
</g>
</svg>
</body>
</html>
